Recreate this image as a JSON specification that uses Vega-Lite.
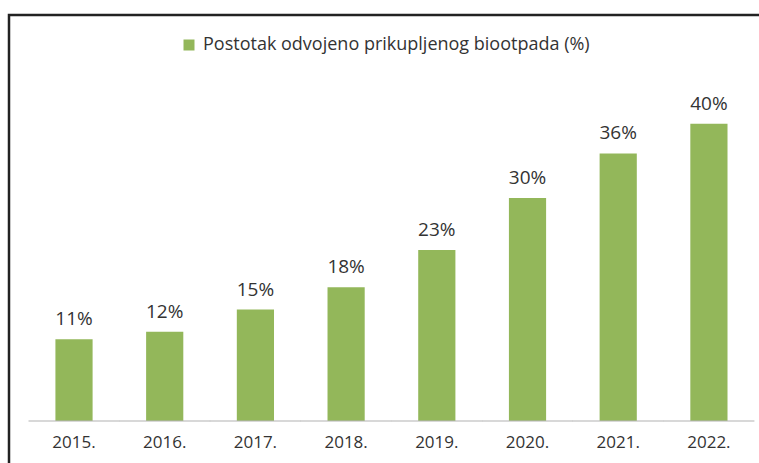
{
  "$schema": "https://vega.github.io/schema/vega-lite/v6.json",
  "width": 760,
  "height": 460,
  "autosize": {"type": "none"},
  "padding": {"left": 9, "top": 15, "right": 0, "bottom": 0},
  "background": "white",
  "config": {
    "view": {"stroke": "#222222", "strokeWidth": 2.5},
    "font": "Open Sans"
  },
  "data": {
    "values": [
      {"year": "2015.", "value": 0.11, "series": "Postotak odvojeno prikupljenog biootpada (%)"},
      {"year": "2016.", "value": 0.12, "series": "Postotak odvojeno prikupljenog biootpada (%)"},
      {"year": "2017.", "value": 0.15, "series": "Postotak odvojeno prikupljenog biootpada (%)"},
      {"year": "2018.", "value": 0.18, "series": "Postotak odvojeno prikupljenog biootpada (%)"},
      {"year": "2019.", "value": 0.23, "series": "Postotak odvojeno prikupljenog biootpada (%)"},
      {"year": "2020.", "value": 0.30, "series": "Postotak odvojeno prikupljenog biootpada (%)"},
      {"year": "2021.", "value": 0.36, "series": "Postotak odvojeno prikupljenog biootpada (%)"},
      {"year": "2022.", "value": 0.40, "series": "Postotak odvojeno prikupljenog biootpada (%)"}
    ]
  },
  "encoding": {
    "x": {
      "field": "year",
      "type": "nominal",
      "title": null,
      "scale": {"paddingInner": 0.59, "paddingOuter": 0.4846, "align": 0.528},
      "axis": {
        "title": null,
        "offset": -54,
        "domain": false,
        "ticks": false,
        "labelPadding": 13,
        "labelAngle": 0,
        "labelFontSize": 17,
        "labelColor": "#333333"
      }
    }
  },
  "layer": [
    {
      "mark": {"type": "bar"},
      "encoding": {
        "y": {
          "field": "value",
          "type": "quantitative",
          "title": null,
          "scale": {"domain": [-0.0727, 0.5464], "nice": false, "zero": false},
          "axis": null
        },
        "color": {
          "field": "series",
          "type": "nominal",
          "title": null,
          "scale": {"range": ["#93b75a"]},
          "legend": {
            "title": null,
            "orient": "none",
            "legendX": 171,
            "legendY": 21,
            "symbolType": "square",
            "symbolSize": 121,
            "symbolStrokeWidth": 0,
            "labelFontSize": 18,
            "labelColor": "#333333",
            "labelOffset": 5,
            "labelLimit": 600
          }
        }
      }
    },
    {
      "mark": {"type": "tick", "orient": "horizontal", "color": "#b5b5b5", "thickness": 1.5, "size": 91},
      "encoding": {
        "y": {"datum": 0, "type": "quantitative", "title": null, "axis": null}
      }
    },
    {
      "mark": {"type": "text", "baseline": "bottom", "dy": -10, "fontSize": 19, "color": "#333333"},
      "encoding": {
        "y": {"field": "value", "type": "quantitative", "title": null, "axis": null},
        "text": {"field": "value", "type": "quantitative", "format": ".0%"}
      }
    }
  ]
}
